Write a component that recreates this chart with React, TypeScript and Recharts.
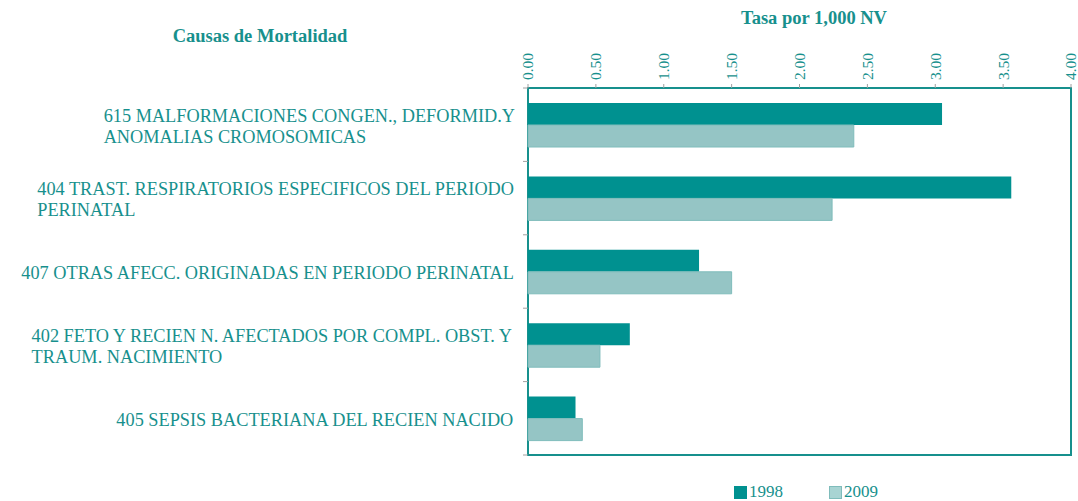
import React from "react";
import {
  BarChart, Bar, XAxis, YAxis, ReferenceArea,
} from "recharts";

const causes = [
  "615 MALFORMACIONES CONGEN., DEFORMID.Y\nANOMALIAS CROMOSOMICAS",
  "404 TRAST. RESPIRATORIOS ESPECIFICOS DEL PERIODO\nPERINATAL",
  "407 OTRAS AFECC. ORIGINADAS EN PERIODO PERINATAL",
  "402 FETO Y RECIEN N. AFECTADOS POR COMPL. OBST. Y\nTRAUM. NACIMIENTO",
  "405 SEPSIS BACTERIANA DEL RECIEN NACIDO",
];
const rate1998 = [3.05, 3.56, 1.26, 0.75, 0.35];
const rate2009 = [2.4, 2.24, 1.5, 0.53, 0.4];
const xTicks = [0, 0.5, 1, 1.5, 2, 2.5, 3, 3.5, 4];
const years = ["1998", "2009"];

const data = causes.map((c, i) => ({ cause: c, y1998: rate1998[i], y2009: rate2009[i] }));

const TEAL = "#17908d";
const DARK = "#009190";
const LIGHT = "#95c5c5";
const FONT = '"Liberation Serif", serif';
const FS = 18.3;

const W = 1078;
const H = 501;
const PLOT_LEFT = 528;
const PLOT_TOP = 88;
const PLOT_BOTTOM = 455;
const PLOT_RIGHT = 1071;
const BAND = (PLOT_BOTTOM - PLOT_TOP) / causes.length;

let ctx: CanvasRenderingContext2D | null = null;
function measure(s: string) {
  if (!ctx) ctx = document.createElement("canvas").getContext("2d");
  if (!ctx) return s.length * 9;
  ctx.font = `${FS}px ${FONT}`;
  return ctx.measureText(s).width;
}

function CauseTick(props: any) {
  const { y, payload, index } = props;
  const lines: string[] = String(payload.value).split("\n");
  const right = PLOT_LEFT - 13;
  const w = Math.max(...lines.map(measure));
  const sx = right - w;
  const lh = 21;
  const y0 = y - ((lines.length - 1) * lh) / 2 + 1;
  return (
    <g>
      <text x={sx} y={y0} fill={TEAL} fontSize={FS} fontFamily={FONT} textAnchor="start">
        {lines.map((l, i) => (
          <tspan key={i} x={sx} y={y0 + i * lh} dy="0.35em">{l}</tspan>
        ))}
      </text>
      <line x1={PLOT_LEFT - 5} x2={PLOT_LEFT} y1={y + BAND / 2} y2={y + BAND / 2} stroke="#a0a0a0" />
      {index === 0 && (
        <line x1={PLOT_LEFT - 5} x2={PLOT_LEFT} y1={y - BAND / 2} y2={y - BAND / 2} stroke="#a0a0a0" />
      )}
    </g>
  );
}

function RateTick(props: any) {
  const { x, payload } = props;
  const y = PLOT_TOP - 8;
  return (
    <text
      x={x}
      y={y}
      transform={`rotate(-90, ${x}, ${y})`}
      textAnchor="start"
      dy="0.35em"
      fill={TEAL}
      fontSize={15.5}
      fontFamily={FONT}
    >
      {Number(payload.value).toFixed(2)}
    </text>
  );
}

function LegendBox() {
  const swatch = [
    { fill: DARK, stroke: DARK },
    { fill: "#a8d4d3", stroke: "#7fbcbb" },
  ];
  return (
    <div style={{ position: "absolute", left: 734, top: 482, display: "flex" }}>
      {years.map((yr, i) => (
        <div key={yr} style={{ display: "flex", alignItems: "center", marginRight: 46 }}>
          <div style={{ width: 11, height: 11, background: swatch[i].fill, border: `1px solid ${swatch[i].stroke}`, marginRight: 2 }} />
          <span style={{ color: TEAL, fontSize: 17, fontFamily: FONT }}>{yr}</span>
        </div>
      ))}
    </div>
  );
}

const titleStyle: React.CSSProperties = {
  position: "absolute", width: 240, textAlign: "center",
  color: TEAL, fontWeight: "bold", fontSize: 18.5, fontFamily: FONT,
};

export default function App() {
  return (
    <div style={{ position: "absolute", left: 0, top: 0, width: W, height: H, background: "#fff" }}>
      <BarChart
        width={W}
        height={H}
        data={data}
        layout="vertical"
        margin={{ top: PLOT_TOP - 40, right: W - PLOT_RIGHT, bottom: H - PLOT_BOTTOM, left: 0 }}
        barGap={0}
        barSize={22}
      >
        <XAxis
          type="number"
          orientation="top"
          domain={[0, 4]}
          ticks={xTicks}
          height={40}
          axisLine={false}
          tickLine={{ stroke: "#a0a0a0" }}
          tickSize={4}
          tick={<RateTick />}
          interval={0}
        />
        <YAxis
          type="category"
          dataKey="cause"
          width={PLOT_LEFT}
          axisLine={false}
          tickLine={false}
          tick={<CauseTick />}
          interval={0}
        />
        <ReferenceArea x1={0} x2={4} fill="none" stroke={TEAL} strokeWidth={2} ifOverflow="visible" />
        <Bar dataKey="y1998" name="1998" fill={DARK} isAnimationActive={false} />
        <Bar dataKey="y2009" name="2009" fill={LIGHT} stroke="#7fbcbb" strokeWidth={1} isAnimationActive={false} />
      </BarChart>
      <LegendBox />
      <div style={{ ...titleStyle, left: 694, top: 8 }}>Tasa por 1,000 NV</div>
      <div style={{ ...titleStyle, left: 140, top: 26 }}>Causas de Mortalidad</div>
    </div>
  );
}
